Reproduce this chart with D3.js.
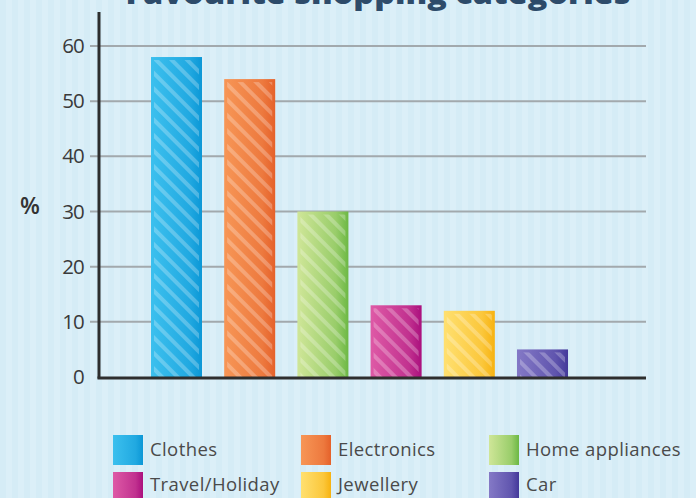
<!DOCTYPE html>
<html><head><meta charset="utf-8">
<script src="https://cdn.jsdelivr.net/npm/d3@7/dist/d3.min.js"></script>
<style>html,body{margin:0;padding:0;background:#dbeff8;}svg{display:block}</style>
</head><body>
<svg id="chart" width="696" height="498"></svg>
<script>
const categories = ["Clothes","Electronics","Home appliances","Travel/Holiday","Jewellery","Car"];
const values = [58, 54, 30, 13, 12, 5];
const yTicks = [0, 10, 20, 30, 40, 50, 60];
const lightColors = ["#3cc0ee","#f79656","#cfe698","#de5aa6","#ffe070","#8479c6"];
const darkColors  = ["#0b97d6","#e5612a","#6cb844","#aa0f7d","#f7b210","#43389a"];
const titleText = "Favourite shopping categories";

const svg = d3.select("#chart");
const W = 696, H = 498;
const defs = svg.append("defs");

// background stripes
const bgp = defs.append("pattern").attr("id","bgstripe").attr("patternUnits","userSpaceOnUse")
  .attr("width",12).attr("height",10);
bgp.append("rect").attr("width",12).attr("height",10).attr("fill","#dbeff8");
bgp.append("rect").attr("width",6).attr("height",10).attr("fill","#d5ecf6");
svg.append("rect").attr("width",W).attr("height",H).attr("fill","url(#bgstripe)");

// diagonal stripe pattern (top-left to bottom-right)
const sp = defs.append("pattern").attr("id","diag").attr("patternUnits","userSpaceOnUse")
  .attr("width",11).attr("height",11).attr("patternTransform","rotate(-45)");
sp.append("rect").attr("x",0).attr("y",0).attr("width",4).attr("height",11).attr("fill","rgba(255,255,255,0.25)");

categories.forEach((c,i)=>{
  const g = defs.append("linearGradient").attr("id","grad"+i).attr("x1","0").attr("x2","1").attr("y1","0").attr("y2","0");
  g.append("stop").attr("offset","0").attr("stop-color",lightColors[i]);
  g.append("stop").attr("offset","0.75").attr("stop-color",d3.interpolateRgb(lightColors[i],darkColors[i])(0.55));
  g.append("stop").attr("offset","1").attr("stop-color",darkColors[i]);
});

const x = d3.scaleBand().domain(categories).range([140, 579]).paddingInner(0.303).paddingOuter(0.15);
const y = d3.scaleLinear().domain([0, 60]).range([377, 46]);

// title
svg.append("text").attr("x",378).attr("y",4).attr("text-anchor","middle")
  .attr("font-family","'Open Sans', sans-serif").attr("font-weight",800).attr("font-size",30)
  .attr("fill","#2d4b6a").attr("textLength",505).attr("lengthAdjust","spacingAndGlyphs").text(titleText);

// gridlines
svg.append("g").selectAll("line").data(yTicks.filter(d=>d>0)).join("line")
  .attr("x1",90).attr("x2",646).attr("y1",d=>y(d)).attr("y2",d=>y(d))
  .attr("stroke","#a2a9ad").attr("stroke-width",2);

// y axis via d3
const yAxis = d3.axisLeft(y).tickValues(yTicks).tickSize(0).tickPadding(15);
const ya = svg.append("g").attr("transform","translate(99,0)").call(yAxis);
ya.select(".domain").remove();
ya.selectAll("text").attr("font-family","'Open Sans', sans-serif").attr("font-size",20.5)
  .attr("fill","#3a3a3a").attr("letter-spacing","-0.8");

// bars
const bars = svg.append("g").selectAll("g").data(categories).join("g");
bars.append("rect").attr("x",d=>x(d)).attr("width",x.bandwidth())
  .attr("y",(d,i)=>y(values[i])).attr("height",(d,i)=>y(0)-y(values[i]))
  .attr("fill",(d,i)=>`url(#grad${i})`);
bars.append("rect").attr("x",d=>x(d)+3).attr("width",x.bandwidth()-6)
  .attr("y",(d,i)=>y(values[i])+3).attr("height",(d,i)=>Math.max(0,y(0)-y(values[i])-3))
  .attr("fill","url(#diag)");

// axes lines
svg.append("line").attr("x1",99).attr("x2",99).attr("y1",12).attr("y2",378.5)
  .attr("stroke","#2e2e2e").attr("stroke-width",3);
svg.append("line").attr("x1",97.5).attr("x2",646).attr("y1",378).attr("y2",378)
  .attr("stroke","#2e2e2e").attr("stroke-width",3);

// % label
svg.append("text").attr("x",30).attr("y",214).attr("text-anchor","middle")
  .attr("font-family","'Open Sans', sans-serif").attr("font-weight",600).attr("font-size",23)
  .attr("fill","#333").text("%");

// legend
const legX = [113, 301, 489];
const legY = [435, 472];
const leg = svg.append("g").selectAll("g").data(categories).join("g")
  .attr("transform",(d,i)=>`translate(${legX[i%3]},${legY[Math.floor(i/3)]})`);
leg.append("rect").attr("width",30).attr("height",30).attr("fill",(d,i)=>`url(#grad${i})`);
leg.append("text").attr("x",37).attr("y",(d,i)=>i<3?15:13).attr("dy","0.35em")
  .attr("font-family","'Open Sans', sans-serif").attr("font-size",18.5)
  .attr("fill","#4a4a4a").attr("letter-spacing","0.4").text(d=>d);
</script>
</body></html>
